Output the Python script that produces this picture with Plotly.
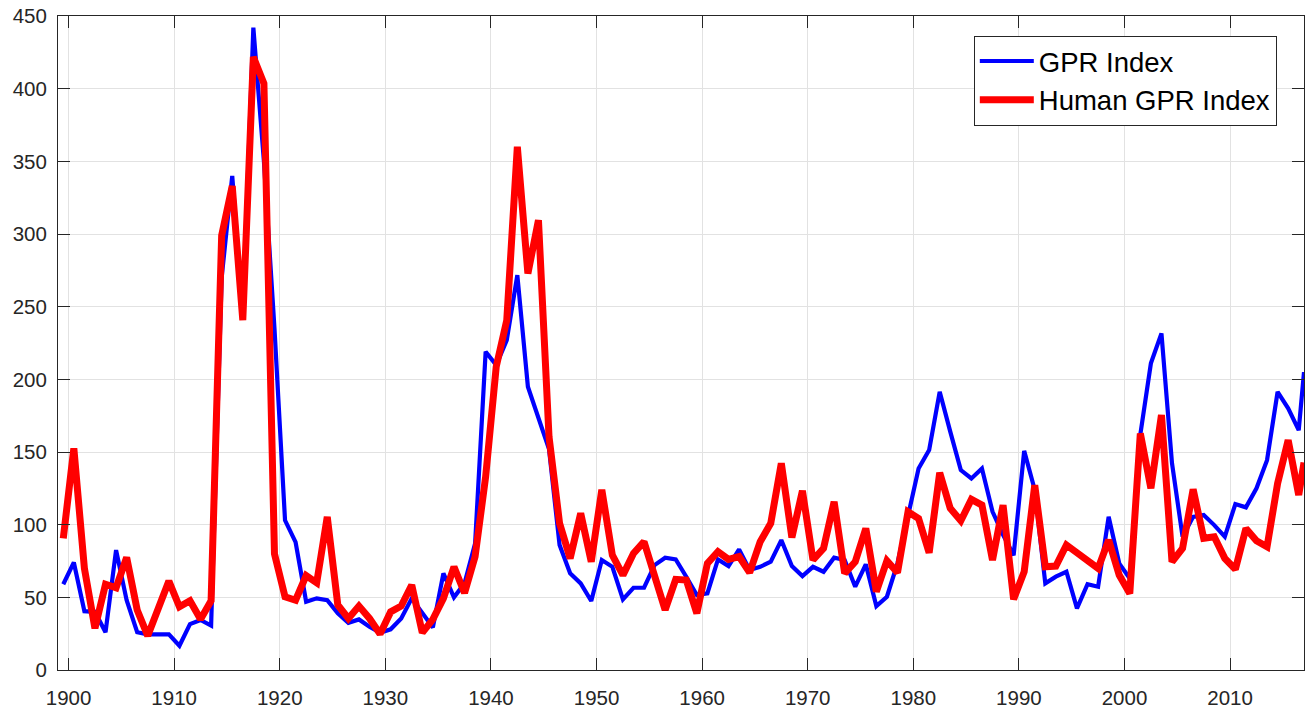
import plotly.graph_objects as go

# ---- data (annual values, 1899-2017) ----
years = list(range(1899, 2018))

gpr_index = [
    59, 74, 40.5, 40, 26, 82.5, 48, 26, 24.5, 24.5, 24.5,            # 1899-1909
    16.7, 31.6, 34.4, 30.5, 270, 340, 245, 442, 350, 235,            # 1910-1919
    103, 88, 47, 49.3, 48, 39, 32.5, 34.8, 29.8, 25.7,               # 1920-1929
    28, 35.5, 49.3, 39, 29.3, 66.5, 50, 59.6, 87, 219,               # 1930-1939
    209.8, 227, 271.7, 194.9, 174.2, 152, 86, 66.5, 59.6, 47.5,      # 1940-1949
    75.7, 71, 48.6, 56.6, 56.6, 72.2, 77.3, 76.1, 64.2, 51.6,        # 1950-1959
    52.7, 76.1, 71.5, 83, 68.8, 71, 74.5, 89.4, 71.5, 64.6,          # 1960-1969
    71, 67.6, 77.3, 75.7, 57.3, 72.7, 44, 50.4, 73.4, 106,           # 1970-1979
    138.7, 151.3, 191.4, 164, 137.6, 131.8, 138.7, 109, 93, 79,      # 1980-1989
    150.8, 124, 59.6, 64.2, 67.6, 42.4, 59.1, 57.3, 105.4, 73.4,     # 1990-1999
    63, 162, 211, 231.6, 142.2, 91.7, 105.4, 106.6, 99.7, 91.7,      # 2000-2009
    114.2, 111.9, 125, 144.4, 191.4, 180, 165, 205,                  # 2010-2017
]

human_gpr_index = [
    90.6, 152.5, 70, 28.7, 59, 56.6, 77.5, 41.3, 23.5, 42.4, 61.2,   # 1899-1909
    43.5, 47.7, 34.9, 47.7, 299, 333, 240.7, 421.8, 403.5, 80,       # 1910-1919
    50.4, 48, 65, 60, 105.4, 44.7, 35.5, 44, 35.5, 24.8,             # 1920-1929
    40, 44, 58.5, 25.7, 34.8, 49.3, 71, 53, 78, 133,                 # 1930-1939
    208.6, 240.7, 360, 272.8, 309.5, 160.5, 100.9, 76.8, 107.8, 74.5,  # 1940-1949
    124, 79, 65.3, 80.2, 88.3, 64.2, 41.3, 62.4, 61.9, 39,           # 1950-1959
    73.4, 81.4, 76.1, 78, 67, 88.3, 100.9, 142.2, 91.2, 123.3,       # 1960-1969
    75.7, 83.7, 115.8, 66.5, 74.5, 97.4, 53.9, 75.2, 67, 108.9,      # 1970-1979
    104.3, 80.7, 135.7, 111.2, 102.7, 117.4, 113.5, 75.7, 113.5, 48.6,  # 1980-1989
    67.6, 127.2, 71, 71.5, 86, 80.7, 75.7, 69.9, 89.4, 65.3,         # 1990-1999
    52.7, 162.8, 125, 175.4, 74.5, 83.7, 124.3, 90.6, 91.7, 76.8,    # 2000-2009
    69.3, 97.4, 88.9, 84.8, 128.4, 158.2, 120.4, 142.8,              # 2010-2017
]

assert len(gpr_index) == len(years) == len(human_gpr_index)

# annual values are dated at mid-year; the latest (partial) year is dated at its start
x_dates = [y + 0.5 for y in years[:-1]] + [float(years[-1])]

x_tick_vals = list(range(1900, 2011, 10))
y_tick_vals = list(range(0, 451, 50))

FONT = "Liberation Sans, Arial, Helvetica, sans-serif"
AXIS_COLOR = "#262626"
GRID_COLOR = "#e2e2e2"
TICK_SIZE = 20.5

fig = go.Figure()
fig.add_trace(go.Scatter(
    x=x_dates, y=gpr_index, mode="lines", name="GPR Index",
    line=dict(color="#0000ff", width=4.2),
))
fig.add_trace(go.Scatter(
    x=x_dates, y=human_gpr_index, mode="lines", name="Human GPR Index",
    line=dict(color="#ff0000", width=7),
))

fig.update_layout(
    width=1315, height=713,
    margin=dict(l=58, r=11, t=16, b=43, autoexpand=False),
    paper_bgcolor="white", plot_bgcolor="white",
    font=dict(family=FONT, color=AXIS_COLOR, size=TICK_SIZE),
    showlegend=True,
    legend=dict(
        x=0.735, y=0.97, xanchor="left", yanchor="top",
        bgcolor="white", bordercolor=AXIS_COLOR, borderwidth=1,
        font=dict(family=FONT, size=27.5, color="black"),
        tracegroupgap=0, itemwidth=54,
    ),
)
fig.update_xaxes(
    range=[1899, 2017], tickmode="array", tickvals=x_tick_vals,
    ticktext=[str(v) for v in x_tick_vals],
    showgrid=True, gridcolor=GRID_COLOR, gridwidth=1,
    showline=True, linecolor=AXIS_COLOR, linewidth=1, mirror="ticks",
    ticks="inside", ticklen=12, tickcolor=AXIS_COLOR, tickwidth=1,
    tickfont=dict(family=FONT, size=TICK_SIZE, color=AXIS_COLOR),
    ticklabelstandoff=9, ticklabeloverflow="allow",
    zeroline=False, automargin=False,
)
fig.update_yaxes(
    range=[0, 450], tickmode="array", tickvals=y_tick_vals,
    ticktext=[str(v) for v in y_tick_vals],
    showgrid=True, gridcolor=GRID_COLOR, gridwidth=1,
    showline=True, linecolor=AXIS_COLOR, linewidth=1, mirror="ticks",
    ticks="inside", ticklen=12, tickcolor=AXIS_COLOR, tickwidth=1,
    tickfont=dict(family=FONT, size=TICK_SIZE, color=AXIS_COLOR),
    ticklabelstandoff=6, ticklabeloverflow="allow",
    zeroline=False, automargin=False,
)

# remove the default page margin so the figure fills the window exactly
fig.write_html(
    "out.html",
    config={"displayModeBar": False},
    post_script="document.body.style.margin='0';",
)
